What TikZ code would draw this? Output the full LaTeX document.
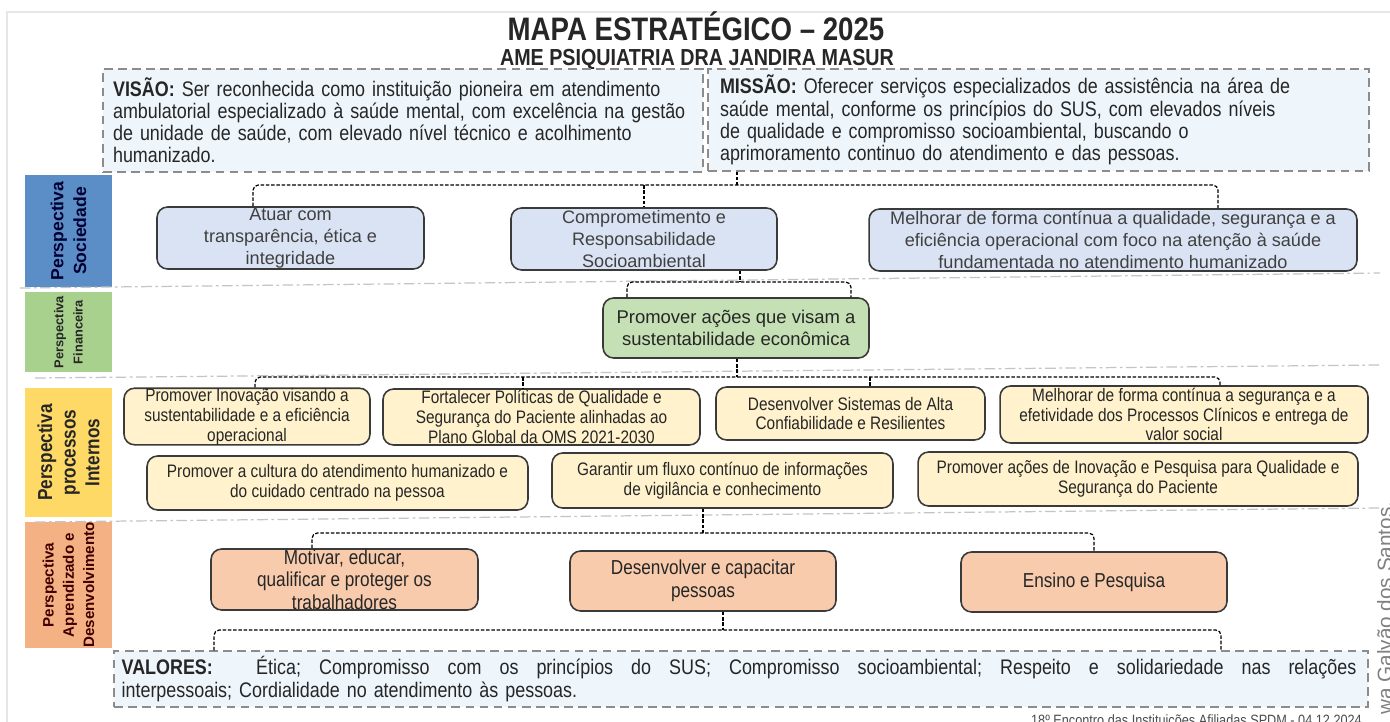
\documentclass[tikz,border=0pt]{standalone}
\usepackage{fontspec}
\setmainfont{Liberation Sans}
\newfontfamily\narrowfont[FakeStretch=0.85]{Liberation Sans}
\usetikzlibrary{positioning, calc}

\definecolor{socbar}{HTML}{5B8DC7}
\definecolor{finbar}{HTML}{A9D18E}
\definecolor{procbar}{HTML}{FFD966}
\definecolor{aprbar}{HTML}{F4B183}
\definecolor{socfill}{HTML}{DAE3F3}
\definecolor{finfill}{HTML}{C5E0B4}
\definecolor{procfill}{HTML}{FFF2CC}
\definecolor{aprfill}{HTML}{F8CBAD}
\definecolor{stmtfill}{HTML}{EEF6FC}
\definecolor{boxline}{HTML}{3A3A3A}
\definecolor{boxtext}{HTML}{262626}
\definecolor{dashgray}{HTML}{8C8C8C}
\definecolor{sepgray}{HTML}{C4C4C4}
\definecolor{framegray}{HTML}{E6E6E6}

\begin{document}
\begin{tikzpicture}[x=0.02cm, y=-0.02cm,
    box_base/.style={draw=boxline, line width=0.9pt, rounded corners=6pt, align=center, inner sep=0pt, text=boxtext},
    soc_box/.style={box_base, fill=socfill, text=black!75, font=\fontsize{10.3}{12.5}\selectfont},
    fin_box/.style={box_base, fill=finfill, font=\fontsize{10.5}{12.5}\selectfont},
    proc_box/.style={box_base, fill=procfill, font=\narrowfont\fontsize{10.3}{11.3}\selectfont},
    apr_box/.style={box_base, fill=aprfill, font=\narrowfont\fontsize{11.5}{12.8}\selectfont},
    statement_box/.style={draw=dashgray, dash pattern=on 5pt off 3pt, line width=0.8pt, fill=stmtfill, align=left, inner sep=0pt, text=boxtext, font=\narrowfont\fontsize{12}{12.6}\selectfont},
    bar_style/.style={inner sep=0pt, rotate=90, align=center},
    link/.style={draw=black, line width=0.7pt, dash pattern=on 2pt off 1pt, rounded corners=3pt},
    sep_line/.style={draw=sepgray, line width=0.7pt, dash pattern=on 6pt off 2pt on 1.5pt off 2pt}
]
\useasboundingbox (0,0) rectangle (1390,721);
\fill[white] (0,0) rectangle (1390,721);
\draw[framegray, line width=0.6pt] (7,730) |- (1400,12);

% Title
\node[inner sep=0pt, font=\narrowfont\bfseries\fontsize{18.5}{22}\selectfont, text=boxtext] (title) at (696,26) {MAPA ESTRATÉGICO – 2025};
\node[inner sep=0pt, font=\narrowfont\bfseries\fontsize{13.2}{15}\selectfont, text=boxtext] (subtitle) at (697,60) {AME PSIQUIATRIA DRA JANDIRA MASUR};

% Visao / Missao
\node[statement_box, minimum width=12cm, minimum height=2.06cm, text width=11.6cm] (vis) at (403,120.5)
    {\textbf{VISÃO:} Ser reconhecida como instituição pioneira em atendimento\\ambulatorial especializado à saúde mental, com excelência na gestão\\de unidade de saúde, com elevado nível técnico e acolhimento\\humanizado.};
\node[statement_box, minimum width=13.22cm, minimum height=2.04cm, text width=12.74cm] (mis) at (1038.5,120)
    {\textbf{MISSÃO:} Oferecer serviços especializados de assistência na área de\\saúde mental, conforme os princípios do SUS, com elevados níveis\\de qualidade e compromisso socioambiental, buscando o\\aprimoramento continuo do atendimento e das pessoas.};

% Perspective bars
\node[bar_style, fill=socbar, text=black!80!blue, minimum width=2.24cm, minimum height=1.74cm, font=\bfseries\fontsize{10}{13}\selectfont] (bar_soc) at (68.5,231) {Perspectiva\\Sociedade};
\node[bar_style, fill=finbar, text=black!85, minimum width=1.6cm, minimum height=1.74cm, font=\bfseries\fontsize{7.3}{11}\selectfont] (bar_fin) at (68.5,332) {Perspectiva\\Financeira};
\node[bar_style, fill=procbar, text=black!85, minimum width=2.58cm, minimum height=1.74cm, font=\narrowfont\bfseries\fontsize{11.5}{13.5}\selectfont] (bar_proc) at (68.5,452.5) {Perspectiva\\processos\\Internos};
\node[bar_style, fill=aprbar, text=black!75!red, minimum width=2.48cm, minimum height=1.74cm, font=\bfseries\fontsize{8.6}{11.5}\selectfont] (bar_apr) at (68.5,585) {Perspectiva\\Aprendizado e\\Desenvolvimento};

% Row separators
\draw[sep_line] (20,288) -- (1380,273);
\draw[sep_line] (35,378) -- (1380,365);
\draw[sep_line] (35,522) -- (1380,508);

% Sociedade
\node[soc_box, minimum width=5.34cm, minimum height=1.24cm] (s1) at (290.5,238) {Atuar com\\transparência, ética e\\integridade};
\node[soc_box, minimum width=5.32cm, minimum height=1.24cm] (s2) at (644,239) {Comprometimento e\\Responsabilidade\\Socioambiental};
\node[soc_box, minimum width=9.76cm, minimum height=1.24cm] (s3) at (1113,240) {Melhorar de forma contínua a qualidade, segurança e a\\eficiência operacional com foco na atenção à saúde\\fundamentada no atendimento humanizado};

% Financeira
\node[fin_box, minimum width=5.32cm, minimum height=1.2cm] (fin) at (736,328) {Promover ações que visam a\\sustentabilidade econômica};

% Processos internos
\node[proc_box, minimum width=4.92cm, minimum height=1.1cm] (p1) at (247,416.5) {Promover Inovação visando a\\sustentabilidade e a eficiência\\operacional};
\node[proc_box, minimum width=6.34cm, minimum height=1.12cm] (p2) at (541.5,417) {Fortalecer Políticas de Qualidade e\\Segurança do Paciente alinhadas ao\\Plano Global da OMS 2021-2030};
\node[proc_box, minimum width=5.38cm, minimum height=1.06cm] (p3) at (850.5,413.5) {Desenvolver Sistemas de Alta\\Confiabilidade e Resilientes};
\node[proc_box, minimum width=7.36cm, minimum height=1.14cm] (p4) at (1184,414.5) {Melhorar de forma contínua a segurança e a\\efetividade dos Processos Clínicos e entrega de\\valor social};
\node[proc_box, minimum width=7.62cm, minimum height=1.08cm] (p5) at (337.5,483) {Promover a cultura do atendimento humanizado e\\do cuidado centrado na pessoa};
\node[proc_box, minimum width=6.82cm, minimum height=1.1cm] (p6) at (722.5,480.5) {Garantir um fluxo contínuo de informações\\de vigilância e conhecimento};
\node[proc_box, minimum width=8.8cm, minimum height=1.08cm] (p7) at (1138,479) {Promover ações de Inovação e Pesquisa para Qualidade e\\Segurança do Paciente};

% Aprendizado e desenvolvimento
\node[apr_box, minimum width=5.34cm, minimum height=1.22cm] (a1) at (344.5,579.5) {Motivar, educar,\\qualificar e proteger os\\trabalhadores};
\node[apr_box, minimum width=5.32cm, minimum height=1.2cm] (a2) at (703,581) {Desenvolver e capacitar\\pessoas};
\node[apr_box, minimum width=5.32cm, minimum height=1.2cm] (a3) at (1094,582) {Ensino e Pesquisa};

% Valores
\node[statement_box, minimum width=25.08cm, minimum height=1.12cm, text width=24.78cm] (val) at (741,679)
    {\makebox[24.7cm][s]{\textbf{VALORES:}\hspace{1.2em}\hfill Ética;\hfill Compromisso\hfill com\hfill os\hfill princípios\hfill do\hfill SUS;\hfill Compromisso\hfill socioambiental;\hfill Respeito\hfill e\hfill solidariedade\hfill nas\hfill relações}\\interpessoais; Cordialidade no atendimento às pessoas.};

% Connectors
\coordinate (j_soc) at (737,185);
\coordinate (l_soc) at (253,185);
\coordinate (m_soc) at (644,185);
\coordinate (r_soc) at (1218,185);
\draw[link] (mis.south -| j_soc) -- (j_soc);
\draw[link] (s1.north -| l_soc) |- (j_soc) -| (s3.north -| r_soc);
\draw[link] (m_soc) -- (s2.north -| m_soc);

\coordinate (j_fin) at (740,282);
\coordinate (l_fin) at (627,282);
\coordinate (r_fin) at (851,282);
\draw[link] (s2.south -| j_fin) -- (j_fin);
\draw[link] (fin.north -| l_fin) |- (j_fin) -| (fin.north -| r_fin);

\coordinate (j_proc) at (737,377);
\coordinate (l_proc) at (255,377);
\coordinate (m1_proc) at (523,377);
\coordinate (m2_proc) at (870,377);
\coordinate (r_proc) at (1220,377);
\draw[link] (fin.south -| j_proc) -- (j_proc);
\draw[link] (p1.north -| l_proc) |- (j_proc) -| (p4.north -| r_proc);
\draw[link] (m1_proc) -- (p2.north -| m1_proc);
\draw[link] (m2_proc) -- (p3.north -| m2_proc);

\coordinate (j_apr) at (703,533);
\coordinate (l_apr) at (312,533);
\coordinate (r_apr) at (1094,533);
\draw[link] (p6.south -| j_apr) -- (j_apr);
\draw[link] (a1.north -| l_apr) |- (j_apr) -| (a3.north -| r_apr);

\coordinate (j_val) at (723,630);
\coordinate (l_val) at (214,630);
\coordinate (r_val) at (1221,630);
\draw[link] (a2.south -| j_val) -- (j_val);
\draw[link] (val.north -| l_val) |- (j_val) -| (val.north -| r_val);

% Footer and side note
\node[font=\narrowfont\fontsize{8.5}{10}\selectfont, text=black!70, anchor=base east] (footer) at (1368,725) {18º Encontro das Instituições Afiliadas SPDM - 04.12.2024};
\node[rotate=90, anchor=base west, font=\fontsize{11.8}{14}\selectfont, text=black!50] (side_name) at (1392,721) {wa Galvão dos Santos.};

\end{tikzpicture}
\end{document}
